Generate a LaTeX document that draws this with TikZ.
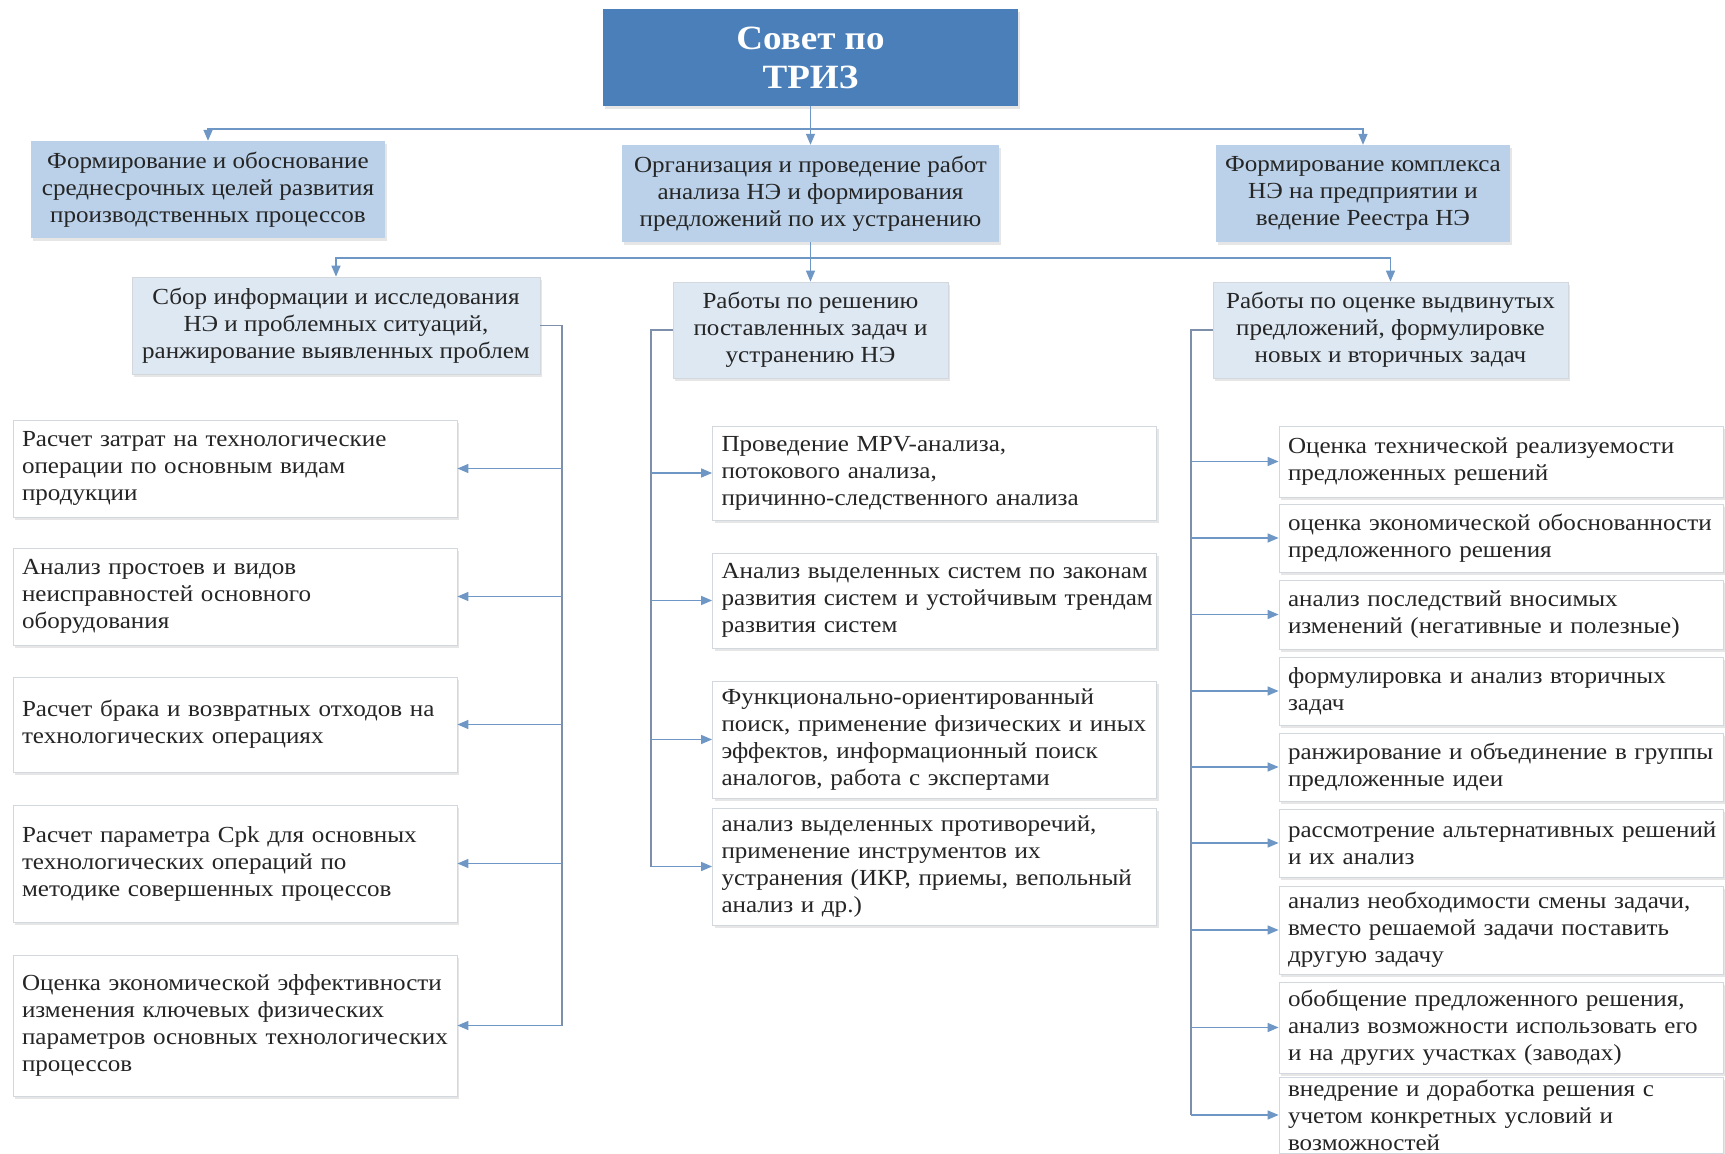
\documentclass[tikz,border=0pt]{standalone}
\usepackage{fontspec}
\setmainfont[FakeStretch=1.09]{Liberation Serif}
\usetikzlibrary{shadows,arrows.meta}
\definecolor{topblue}{HTML}{4A7FB9}
\definecolor{midblue}{HTML}{BAD1E9}
\definecolor{paleblue}{HTML}{DDE8F3}
\definecolor{linkblue}{HTML}{6E97C6}
\definecolor{trunkgray}{HTML}{7D8FAA}
\definecolor{boxline}{HTML}{D3D8DF}
\definecolor{txt}{HTML}{252525}
\begin{document}
\begin{tikzpicture}[x=1pt,y=-1pt,
  softshadow/.style={drop shadow={shadow xshift=2pt,shadow yshift=-3pt,opacity=0.16,fill=black!60}},
  topbox/.style={fill=topblue,draw=none,text=white,align=center,
    font=\fontsize{34}{39}\selectfont\bfseries,softshadow},
  lvltwo/.style={fill=midblue,draw=none,text=txt,align=center,
    font=\fontsize{23}{27}\selectfont,softshadow},
  lvlthree/.style={fill=paleblue,draw=boxline,line width=0.8pt,text=txt,align=center,
    font=\fontsize{23}{27}\selectfont,softshadow},
  taskbox/.style={fill=white,draw=boxline,line width=0.8pt,text=txt,align=left,
    inner xsep=9pt,inner ysep=2pt,font=\fontsize{23}{27}\selectfont,softshadow,
    text width=426pt},
  link/.style={draw=linkblue,line width=1.4pt,-{Triangle[length=11pt,width=9pt]}},
  trunk/.style={draw=trunkgray,line width=1.2pt},
]
\useasboundingbox (0,0) rectangle (1725,1154);
\fill[white] (0,0) rectangle (1725,1154);

% ---- top ----
\node[topbox,minimum width=415,minimum height=97] (top) at (810.5,57.5) {Совет по\\ТРИЗ};

% ---- second level ----
\node[lvltwo,minimum width=354,minimum height=97] (g1) at (208,189.5)
  {Формирование и обоснование\\среднесрочных целей развития\\производственных процессов};
\node[lvltwo,minimum width=377,minimum height=97] (g2) at (810.5,193.5)
  {Организация и проведение работ\\анализа НЭ и формирования\\предложений по их устранению};
\node[lvltwo,minimum width=294,minimum height=97] (g3) at (1363,193.5)
  {Формирование комплекса\\НЭ на предприятии и\\ведение Реестра НЭ};

\coordinate (busA) at (810.5,129);
\draw[link] (top.south) -- (g2.north);
\draw[link] (busA) -| (g1.north);
\draw[link] (busA) -| (g3.north);

% ---- third level ----
\node[lvlthree,minimum width=408,minimum height=97] (s1) at (336,325.5)
  {Сбор информации и исследования\\НЭ и проблемных ситуаций,\\ранжирование выявленных проблем};
\node[lvlthree,minimum width=275,minimum height=96] (s2) at (810.5,330)
  {Работы по решению\\поставленных задач и\\устранению НЭ};
\node[lvlthree,minimum width=355,minimum height=96] (s3) at (1390.5,330)
  {Работы по оценке выдвинутых\\предложений, формулировке\\новых и вторичных задач};

\coordinate (busB) at (810.5,258);
\draw[link] (g2.south) -- (s2.north);
\draw[link] (busB) -| (s1.north);
\draw[link] (busB) -| (s3.north);

% ---- left column ----
\node[taskbox,minimum width=444,minimum height=97] (b1) at (235,468.5)
  {Расчет затрат на технологические\\операции по основным видам\\продукции};
\node[taskbox,minimum width=444,minimum height=97] (b2) at (235,596.5)
  {Анализ простоев и видов\\неисправностей основного\\оборудования};
\node[taskbox,minimum width=444,minimum height=95] (b3) at (235,724.5)
  {Расчет брака и возвратных отходов на\\технологических операциях};
\node[taskbox,minimum width=444,minimum height=117] (b4) at (235,863.5)
  {Расчет параметра Cpk для основных\\технологических операций по\\методике совершенных процессов};
\node[taskbox,minimum width=444,minimum height=141] (b5) at (235,1025.5)
  {Оценка экономической эффективности\\изменения ключевых физических\\\mbox{параметров основных технологических}\\процессов};

\coordinate (trL) at (562,325.5);
\draw[trunk] (s1.east) -- (trL) -- (trL |- b5.east);
\foreach \b in {b1,b2,b3,b4,b5}
  \draw[link] (trL |- \b.east) -- (\b.east);

% ---- middle column ----
\node[taskbox,minimum width=443,minimum height=94] (c1) at (934.5,473)
  {Проведение MPV-анализа,\\потокового анализа,\\причинно-следственного анализа};
\node[taskbox,minimum width=443,minimum height=95] (c2) at (934.5,600.5)
  {\mbox{Анализ выделенных систем по законам}\\\mbox{развития систем и устойчивым трендам}\\развития систем};
\node[taskbox,minimum width=443,minimum height=117] (c3) at (934.5,739.5)
  {Функционально-ориентированный\\\mbox{поиск, применение физических и иных}\\эффектов, информационный поиск\\аналогов, работа с экспертами};
\node[taskbox,minimum width=443,minimum height=117] (c4) at (934.5,866.5)
  {анализ выделенных противоречий,\\применение инструментов их\\\mbox{устранения (ИКР, приемы, вепольный}\\анализ и др.)};

\coordinate (trM) at (651,330);
\draw[trunk] (s2.west) -- (trM) -- (trM |- c4.west);
\foreach \c in {c1,c2,c3,c4}
  \draw[link] (trM |- \c.west) -- (\c.west);

% ---- right column ----
\node[taskbox,minimum width=444,minimum height=71] (d1) at (1501,461.5)
  {Оценка технической реализуемости\\предложенных решений};
\node[taskbox,minimum width=444,minimum height=68] (d2) at (1501,538)
  {\mbox{оценка экономической обоснованности}\\предложенного решения};
\node[taskbox,minimum width=444,minimum height=69] (d3) at (1501,614.5)
  {анализ последствий вносимых\\\mbox{изменений (негативные и полезные)}};
\node[taskbox,minimum width=444,minimum height=68] (d4) at (1501,691)
  {формулировка и анализ вторичных\\задач};
\node[taskbox,minimum width=444,minimum height=68] (d5) at (1501,767)
  {\mbox{ранжирование и объединение в группы}\\предложенные идеи};
\node[taskbox,minimum width=444,minimum height=68] (d6) at (1501,843)
  {\mbox{рассмотрение альтернативных решений}\\и их анализ};
\node[taskbox,minimum width=444,minimum height=88] (d7) at (1501,930)
  {\mbox{анализ необходимости смены задачи,}\\вместо решаемой задачи поставить\\другую задачу};
\node[taskbox,minimum width=444,minimum height=91] (d8) at (1501,1027.5)
  {обобщение предложенного решения,\\\mbox{анализ возможности использовать его}\\и на других участках (заводах)};
\node[taskbox,minimum width=444,minimum height=76] (d9) at (1501,1115)
  {внедрение и доработка решения с\\учетом конкретных условий и\\возможностей};

\coordinate (trR) at (1191,330);
\draw[trunk] (s3.west) -- (trR) -- (trR |- d9.west);
\foreach \d in {d1,d2,d3,d4,d5,d6,d7,d8,d9}
  \draw[link] (trR |- \d.west) -- (\d.west);
\end{tikzpicture}
\end{document}
